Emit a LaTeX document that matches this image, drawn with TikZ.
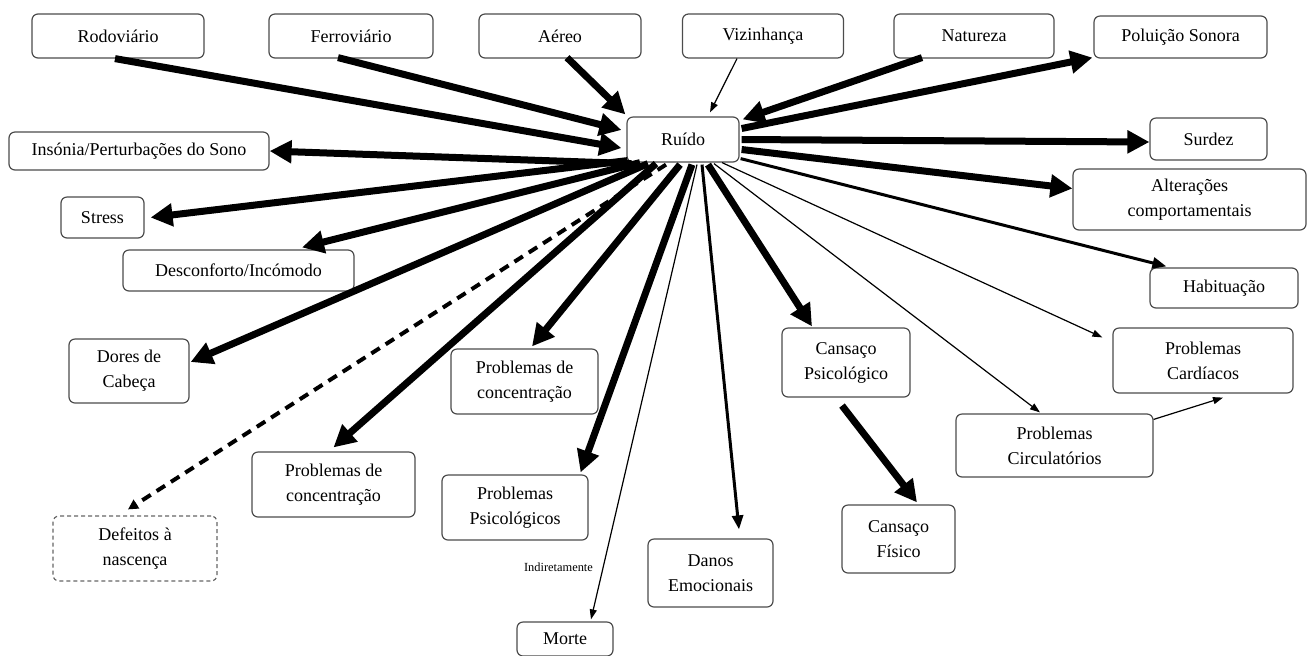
\documentclass[tikz,border=0pt]{standalone}
\usepackage{fontspec}
\setmainfont{Liberation Serif}
\usetikzlibrary{arrows.meta,calc}
\begin{document}
\begin{tikzpicture}[x=0.5pt,y=-0.5pt,
  box/.style={draw=black!70, line width=0.6pt, rounded corners=3pt, align=center,
    inner sep=0pt, font=\fontsize{9}{12.5}\selectfont},
  sz/.style 2 args={minimum width=#1*0.5pt, minimum height=#2*0.5pt},
  dashbox/.style={draw=black!60, dash pattern=on 2pt off 1.5pt},
  heavy/.style={line width=3.5pt, -{Triangle[length=11pt,width=11pt]}},
  medium/.style={line width=1.5pt, -{Triangle[length=7pt,width=5.5pt]}},
  light/.style={line width=0.6pt, -{Triangle[length=5pt,width=3.5pt]}},
  dasharrow/.style={line width=2pt, dash pattern=on 5pt off 3.5pt,
    -{Triangle[length=5pt,width=5pt]}},
  note/.style={font=\fontsize{6.2}{7}\selectfont, inner sep=0pt}
]
\useasboundingbox (0,0) rectangle (1316,655);

% sources
\node[box, sz={172}{44}] (rodo)  at (118,36)   {Rodoviário};
\node[box, sz={164}{44}] (ferro) at (351,36)   {Ferroviário};
\node[box, sz={162}{44}] (aereo) at (560,36)   {Aéreo};
\node[box, sz={161}{44}] (viz)   at (763,36)   {Vizinhança};
\node[box, sz={160}{44}] (natur) at (974,36)   {Natureza};
\node[box, sz={173}{42}] (polui) at (1180.5,37) {Poluição Sonora};

% centre
\node[box, sz={112}{45}] (ruido) at (683,139.5) {Ruído};

% effects, left side
\node[box, sz={260}{38}] (insonia) at (139,151)    {Insónia/Perturbações do Sono};
\node[box, sz={83}{41}]  (stress)  at (102.5,217.5) {Stress};
\node[box, sz={231}{41}] (descon)  at (238.5,270.5) {Desconforto/Incómodo};
\node[box, sz={120}{64}] (dores)   at (129,371)    {Dores de\\Cabeça};
\node[box, dashbox, sz={164}{65}] (defeitos) at (135,548.5) {Defeitos à\\nascença};
\node[box, sz={163}{65}] (concA)   at (333.5,484.5) {Problemas de\\concentração};

% effects, bottom
\node[box, sz={147}{65}] (concB) at (524.5,381.5) {Problemas de\\concentração};
\node[box, sz={146}{65}] (psic)  at (515,507.5)   {Problemas\\Psicológicos};
\node[box, sz={96}{34}]  (morte) at (565,639)     {Morte};
\node[box, sz={125}{68}] (danos) at (710.5,573)   {Danos\\Emocionais};
\node[box, sz={128}{69}] (cpsic) at (846,362.5)   {Cansaço\\Psicológico};
\node[box, sz={113}{68}] (cfis)  at (898.5,539)   {Cansaço\\Físico};
\node[box, sz={197}{63}] (circ)  at (1054.5,445.5) {Problemas\\Circulatórios};
\node[box, sz={180}{65}] (cardi) at (1203,360.5)  {Problemas\\Cardíacos};

% effects, right side
\node[box, sz={117}{42}] (surdez) at (1208.5,139)  {Surdez};
\node[box, sz={233}{61}] (alter)  at (1189.5,199.5) {Alterações\\comportamentais};
\node[box, sz={148}{40}] (habit)  at (1224,288)    {Habituação};

\node[note] (indir) at (558.5,567) {Indiretamente};

% incoming connectors
\draw[heavy] ($(rodo.south)+(-3,0)$)   -- ($(ruido.west)+(-5,8.5)$);
\draw[heavy] ($(ferro.south)+(-13,-1)$) -- ($(ruido.west)+(-5,-9.5)$);
\draw[heavy] ($(aereo.south)+(7,-1)$)  -- ($(ruido.north west)+(-1,-2)$);
\draw[light] ($(viz.south)+(-26,0)$)   -- ($(ruido.north)+(27,-4)$);
\draw[heavy] ($(natur.south)+(-52,-1)$) -- ($(ruido.north east)+(3,3)$);

% outgoing connectors, right
\draw[heavy]  ($(ruido.east)+(2,-11)$) -- ($(polui.south west)+(-1,-1)$);
\draw[heavy]  ($(ruido.east)+(2,0)$)   -- ($(surdez.west)+(0,3)$);
\draw[heavy]  ($(ruido.east)+(2,10)$)  -- ($(alter.west)+(0,-11)$);
\draw[medium] ($(ruido.south east)+(1,-4)$) -- ($(habit.north west)+(17,-1)$);

% outgoing connectors, downwards
\draw[light]  ($(ruido.south)+(39,0)$) -- ($(cardi.north west)+(-10,10)$);
\draw[light]  ($(ruido.south)+(31,1)$) -- ($(circ.north)+(-14.5,-1)$);
\draw[heavy]  ($(ruido.south)+(25,2)$) -- ($(cpsic.north)+(-34,-1)$);
\draw[medium] ($(ruido.south)+(19,2)$) -- ($(danos.north)+(28.5,-9)$);
\draw[light]  ($(ruido.south)+(14,2)$) -- ($(morte.north)+(26,-2)$);
\draw[heavy]  ($(ruido.south)+(9,2)$)  -- ($(psic.north east)+(-8,-2)$);
\draw[heavy]  ($(ruido.south)+(-3,2)$) -- ($(concB.north)+(7.5,-2)$);
\draw[heavy]  ($(ruido.south)+(-27,1)$) -- ($(concA.north)+(0,-4)$);
\draw[dasharrow] ($(ruido.south)+(-17,2)$) -- ($(defeitos.north)+(-7,-6)$);
\draw[heavy]  ($(ruido.south)+(-35,1)$) -- ($(dores.east)+(1,-9)$);
\draw[heavy]  ($(ruido.south)+(-43,0)$) -- ($(descon.north)+(63.5,-2)$);
\draw[heavy]  ($(ruido.south west)+(1,-2)$) -- ($(stress.east)+(6,0)$);
\draw[heavy]  ($(ruido.south west)+(5,1)$)  -- (insonia.east);

% secondary links
\draw[heavy] ($(cpsic.south)+(-4,8)$) -- ($(cfis.north)+(18.5,-2)$);
\draw[light] ($(circ.north east)+(0,6)$) -- ($(cardi.south)+(20,4)$);
\end{tikzpicture}
\end{document}
